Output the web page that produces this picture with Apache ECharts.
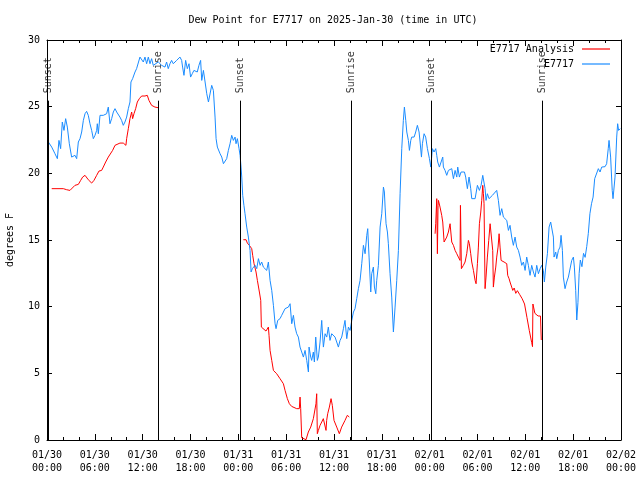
<!DOCTYPE html>
<html><head><meta charset="utf-8">
<script src="https://cdn.jsdelivr.net/npm/echarts@6/dist/echarts.min.js"></script>
<style>html,body{margin:0;padding:0;background:#fff}#c{width:640px;height:480px}</style>
</head><body><div id="c"></div>
<script>
const titleText = 'Dew Point for E7717 on 2025-Jan-30 (time in UTC)';
const yName = 'degrees F';
const xTickLabels = ['01/30\n00:00','01/30\n06:00','01/30\n12:00','01/30\n18:00','01/31\n00:00','01/31\n06:00','01/31\n12:00','01/31\n18:00','02/01\n00:00','02/01\n06:00','02/01\n12:00','02/01\n18:00','02/02\n00:00'];
const sunTimes = [0.15, 14.0, 24.2, 38.15, 48.2, 62.1];
const sunNames = ['Sunset','Sunrise','Sunset','Sunrise','Sunset','Sunrise'];
const seriesNames = ['E7717 Analysis', 'E7717'];

// observed dew point (hours since 01/30 00:00 UTC, deg F)
const obsData = [[0.17,22.35],[0.59,21.97],[1.0,21.47],[1.3,21.1],[1.5,22.47],[1.71,21.85],[1.92,23.85],[2.13,23.22],[2.34,24.1],[2.55,23.47],[2.8,22.22],[3.09,21.22],[3.3,21.1],[3.51,21.35],[3.72,21.1],[3.93,22.35],[4.14,22.6],[4.35,23.1],[4.56,23.97],[4.77,24.47],[4.97,24.65],[5.18,24.35],[5.39,23.72],[5.6,23.22],[5.81,22.6],[6.02,22.85],[6.23,23.22],[6.31,23.72],[6.44,22.97],[6.65,24.35],[7.06,24.35],[7.48,24.47],[7.69,24.97],[7.9,23.72],[8.11,24.1],[8.32,24.6],[8.53,24.85],[8.74,24.6],[8.95,24.72],[9.15,24.22],[9.36,23.97],[9.57,23.6],[9.78,23.85],[9.99,24.22],[10.2,24.85],[10.41,25.35],[10.53,26.85],[10.74,27.1],[11.04,27.6],[11.24,27.85],[11.45,27.72],[11.66,28.72],[11.87,28.85],[12.08,28.35],[12.29,28.72],[12.5,28.22],[12.71,28.72],[12.92,28.22],[13.12,28.6],[13.33,28.1],[13.54,28.22],[13.96,28.35],[14.38,28.1],[14.8,27.97],[15.0,28.35],[15.21,27.85],[15.42,28.22],[15.63,28.47],[15.84,28.22],[16.05,28.1],[16.26,28.47],[16.68,28.72],[16.89,28.47],[17.01,27.97],[17.18,27.35],[17.39,28.47],[17.6,27.85],[17.81,28.22],[18.01,27.22],[18.22,27.47],[18.43,27.72],[18.64,27.85],[18.85,27.6],[19.06,28.1],[19.27,28.47],
[19.41,26.97],[19.62,27.72],[19.83,26.85],[20.04,25.97],[20.25,25.35],[20.45,25.47],[20.66,26.6],[20.87,26.22],[21.08,24.22],[21.21,22.6],[21.37,21.97],[21.71,21.47],[21.92,21.22],[22.13,20.72],[22.34,20.6],[22.54,21.1],[22.75,21.72],[22.96,22.22],[23.17,22.85],[23.38,22.47],[23.59,22.72],[23.71,22.22],[23.88,22.6],[24.09,21.85],[24.22,21.35],[24.34,20.47],[24.43,19.72],[24.55,18.35],[24.7,17.6],[24.84,16.97],[25.05,15.97],[25.26,15.22],[25.47,14.22],[25.6,12.6],[25.76,12.85],[25.89,12.72],[26.1,13.1],[26.31,12.85],[26.52,13.6],[26.73,13.1],[26.93,13.35],[27.14,12.97],[27.35,13.1],[27.56,12.72],[27.77,13.35],[27.98,11.97],[28.19,11.22],[28.4,10.1],[28.61,8.72],[28.73,8.35],[28.94,8.97],[29.23,9.1],[29.44,9.35],[29.65,9.6],[29.86,9.85],[30.07,9.85],[30.28,9.97],[30.49,10.22],[30.7,8.72],[30.91,9.35],[31.11,8.47],[31.32,7.97],[31.53,7.72],[31.74,6.97],[31.95,6.6],[32.16,6.22],[32.37,6.72],[32.58,5.97],[32.79,5.1],[32.87,6.97],[33.08,6.22],[33.2,5.97],[33.41,6.6],[33.54,5.85],[33.71,7.72],[33.91,5.97],[34.04,6.22],[34.25,7.35],[34.46,8.97],[34.54,8.1],[34.67,6.97],[34.88,7.97],[35.09,7.72],[35.29,8.47],[35.5,7.47],[35.71,7.97],[35.92,7.85],[36.13,7.72],[36.34,7.35],[36.55,6.97],[36.76,7.47],[36.97,7.72],[37.18,8.35],[37.38,8.97],[37.6,7.6],[37.81,8.47],[38.02,8.22],[38.23,8.97],[38.44,9.6],[38.64,9.85],[38.85,10.6],[39.06,11.35],[39.27,11.97],[39.48,13.22],[39.69,14.6],[39.9,13.97],[40.11,15.35],[40.23,15.85],[40.4,13.72],[40.61,11.1],[40.73,12.47],[40.94,12.97],[41.07,11.47],[41.24,10.97],[41.36,11.97],[41.57,13.1],[41.78,15.97],[41.99,16.97],[42.2,18.97],[42.32,18.6],[42.41,17.47],[42.53,16.22],[42.7,15.6],[42.82,14.72],[43.03,12.47],[43.24,10.72],[43.45,8.1],[43.66,9.97],[43.87,11.97],[44.08,14.22],[44.29,18.47],[44.5,21.85],[44.7,23.97],[44.83,24.97],[45.0,23.97],[45.13,23.1],[45.33,22.47],[45.46,21.72],[45.63,22.47],[45.75,22.72],[46.05,22.72],[46.25,23.1],[46.46,23.6],[46.67,23.1],[46.8,22.35],[46.97,21.22],[47.09,22.22],[47.3,22.97],[47.5,22.72],[47.72,21.85],[47.97,21.1],[48.14,20.47],[48.34,21.85],[48.55,21.6],[48.76,21.85],[48.89,21.35],[49.01,20.85],[49.22,20.47],[49.43,20.6],[49.64,21.22],[49.72,20.47],[49.93,20.22],[50.14,19.85],[50.35,20.22],[50.56,20.22],[50.77,20.35],[50.98,19.6],[51.19,20.22],[51.4,19.72],[51.52,20.47],[51.73,19.72],[51.94,20.1],[52.15,20.22],[52.36,20.1],[52.52,19.72],[52.73,18.85],[52.94,19.72],[53.15,18.85],[53.28,18.1],[53.7,18.1],[53.99,19.1],[54.24,18.72],[54.45,19.1],[54.66,19.85],[54.82,19.97],[54.95,18.85],[55.07,17.97],[55.24,18.47],[55.45,18.1],[55.66,18.22],[55.87,18.35],[56.12,18.47],[56.41,18.72],[56.62,17.97],[56.83,16.85],[57.04,17.35],[57.25,16.72],[57.46,16.6],[57.67,16.47],[57.88,15.72],[58.08,16.1],[58.29,15.22],[58.5,14.6],[58.71,15.22],[58.92,14.47],[59.13,14.22],[59.34,13.72],[59.55,13.1],[59.76,13.35],[59.97,12.72],[60.17,13.72],[60.38,13.1],[60.59,12.35],[60.8,13.1],[61.01,12.6],[61.22,12.22],[61.43,13.1],[61.64,12.47],[61.85,12.85],[62.05,13.1],[62.26,12.72],[62.39,11.85],[62.56,12.97],[62.77,13.97],[62.98,15.97],[63.18,16.35],[63.39,16.22],[63.52,15.22],[63.6,13.72],[63.81,14.1],[63.94,13.6],[64.15,14.22],[64.35,14.47],[64.48,15.35],[64.65,14.22],[64.77,12.22],[64.98,11.35],[65.19,11.85],[65.4,12.22],[65.6,12.22],[65.82,13.47],[66.03,13.72],[66.15,12.97],[66.32,11.2],[66.45,9.0],[66.6,10.3],[66.75,12.5],[66.9,13.5],[67.1,13.0],[67.3,14.0],[67.5,13.7],[67.7,14.5],[67.9,15.5],[68.1,16.97],[68.3,17.72],[68.5,18.22],[68.7,19.6],[68.95,19.72],[69.16,20.35],[69.37,20.1],[69.58,20.47],[69.8,20.6],[70.0,20.5],[70.2,20.72],[70.4,21.85],[70.5,22.47],[70.7,21.22],[70.9,18.72],[71.0,18.1],[71.25,19.72],[71.46,22.72],[71.58,23.72],[71.7,23.22],[71.9,23.35]];

// analysis dew point, three separate segments
const anaSeg1 = [[0.59,18.85],[2.05,18.85],[2.47,18.77],[2.88,18.72],[3.09,18.85],[3.51,19.1],[3.93,19.17],[4.22,19.47],[4.47,19.72],[4.77,19.85],[5.18,19.52],[5.6,19.27],[5.89,19.47],[6.23,19.85],[6.52,20.17],[6.85,20.22],[7.06,20.47],[7.36,20.85],[7.69,21.22],[7.9,21.27],[8.23,21.72],[8.53,22.1],[8.65,22.22],[9.15,22.27],[9.57,22.27],[9.78,22.35],[9.9,22.1],[9.99,22.6],[10.2,23.35],[10.41,24.1],[10.62,24.6],[10.74,24.1],[10.91,24.47],[11.12,24.85],[11.33,25.35],[11.58,25.6],[11.87,25.8],[12.29,25.8],[12.58,25.85],[12.79,25.47],[13.12,25.1],[13.54,24.97],[13.96,24.92]];
const anaSeg2 = [[24.63,15.02],[24.97,15.02],[25.13,14.77],[25.38,14.6],[25.68,14.35],[25.8,13.85],[25.97,13.22],[26.22,12.6],[26.39,11.97],[26.64,11.1],[26.81,10.47],[26.89,8.47],[27.14,8.35],[27.47,8.17],[27.64,8.02],[27.77,8.47],[27.85,7.85],[27.98,6.72],[28.19,5.97],[28.4,5.22],[28.81,4.97],[29.23,4.6],[29.65,4.22],[29.86,3.72],[30.15,3.1],[30.4,2.72],[30.69,2.52],[31.32,2.35],[31.65,2.35],[31.74,3.22],[31.82,2.35],[31.95,0.17],[32.16,0.1],[32.49,0.02],[32.66,0.0],[32.78,0.6],[33.08,0.97],[33.41,1.6],[33.62,1.72],[33.74,2.72],[33.83,3.47],[33.91,0.47],[34.04,0.72],[34.25,1.1],[34.46,1.35],[34.66,1.6],[34.87,1.47],[35.0,0.72],[35.08,1.47],[35.21,1.97],[35.42,2.47],[35.63,3.1],[35.79,2.6],[36.0,1.47],[36.34,0.97],[36.67,0.47],[36.96,0.97],[37.38,1.47],[37.67,1.85],[37.92,1.72]];
const anaSeg3 = [[48.68,15.47],[48.76,16.22],[48.89,18.1],[48.97,13.97],[49.05,17.6],[49.1,17.97],[49.3,17.47],[49.51,16.85],[49.64,16.35],[49.81,14.85],[49.93,14.72],[50.14,15.22],[50.35,15.6],[50.56,16.22],[50.69,16.27],[50.77,14.85],[50.98,14.6],[51.19,14.22],[51.4,13.97],[51.6,13.72],[51.81,13.47],[51.86,17.6],[51.98,12.85],[52.23,13.1],[52.44,13.35],[52.65,13.97],[52.86,14.97],[52.98,14.72],[53.15,13.97],[53.28,13.35],[53.49,12.72],[53.7,11.97],[53.82,11.72],[53.99,13.22],[54.11,14.47],[54.24,16.22],[54.41,17.1],[54.53,17.97],[54.66,19.1],[54.74,18.47],[54.82,17.72],[54.95,11.35],[55.07,12.22],[55.24,13.72],[55.41,14.97],[55.58,16.22],[55.78,16.35],[55.91,14.22],[55.99,11.47],[56.12,12.22],[56.29,12.97],[56.41,13.72],[56.58,14.47],[56.71,15.47],[56.83,14.47],[56.96,13.47],[57.12,13.35],[57.33,13.35],[57.67,13.22],[57.79,12.35],[57.96,12.1],[58.08,11.85],[58.29,11.47],[58.42,11.22],[58.6,11.4],[58.8,11.0],[59.0,11.2],[59.3,10.9],[59.6,10.6],[59.9,10.2],[60.2,9.2],[60.5,8.2],[60.8,7.3],[60.9,7.0],[60.95,10.2],[61.2,9.5],[61.6,9.3],[61.9,9.3],[62.0,7.5]];

const FONT = 'DejaVu Sans Mono';
const chart = echarts.init(document.getElementById('c'), null, {renderer: 'canvas'});
const gap = t => [t, '-'];
const anaData = anaSeg1.concat([gap(20)], anaSeg2, [gap(44)], anaSeg3);
const sunLabelTop = 26.0, sunLineTop = 25.45;

const axisCommonX = {
  type: 'value', min: 0, max: 72, interval: 6,
  axisLine: {show: true, onZero: false, lineStyle: {color: '#000', width: 1}},
  axisTick: {show: true, inside: true, length: 6, lineStyle: {color: '#000'}},
  minorTick: {show: true, splitNumber: 3, length: 3, lineStyle: {color: '#000'}},
  splitLine: {show: false}
};
const axisCommonY = {
  type: 'value', min: 0, max: 30, interval: 5,
  axisLine: {show: true, onZero: false, lineStyle: {color: '#000', width: 1}},
  axisTick: {show: true, inside: true, length: 5, lineStyle: {color: '#000'}},
  splitLine: {show: false}
};
const legendCommon = {align: 'right', orient: 'vertical', itemWidth: 28, itemHeight: 1.2, right: 30,
  icon: 'rect', textStyle: {fontFamily: FONT, fontSize: 10, color: '#000', padding: [0, 3, 0, 0]}};

chart.setOption({
  animation: false,
  backgroundColor: '#fff',
  title: {text: titleText, left: 328, top: 10, textAlign: 'center',
    textStyle: {fontFamily: FONT, fontSize: 10, fontWeight: 'normal', color: '#000'}},
  grid: {left: 47, right: 19, top: 40, bottom: 40, outerBoundsMode: 'none', containLabel: false},
  legend: [
    Object.assign({}, legendCommon, {data: [seriesNames[0]], top: 39, right: 25}),
    Object.assign({}, legendCommon, {data: [seriesNames[1]], top: 54, right: 25})
  ],
  xAxis: [
    Object.assign({}, axisCommonX, {position: 'bottom',
      axisLabel: {show: true, color: '#000', fontFamily: FONT, fontSize: 10, lineHeight: 13, margin: 9,
        formatter: v => xTickLabels[Math.round(v / 6)] || ''}}),
    Object.assign({}, axisCommonX, {position: 'top', axisLabel: {show: false}})
  ],
  yAxis: [
    Object.assign({}, axisCommonY, {position: 'left',
      axisLabel: {show: true, color: '#000', fontFamily: FONT, fontSize: 10, margin: 7},
      name: yName, nameLocation: 'middle', nameGap: 32, nameRotate: 90,
      nameTextStyle: {fontFamily: FONT, fontSize: 10, color: '#000'}}),
    Object.assign({}, axisCommonY, {position: 'right', axisLabel: {show: false}})
  ],
  series: [
    {name: 'sun', type: 'scatter', xAxisIndex: 0, yAxisIndex: 0, symbolSize: 1,
      itemStyle: {color: 'rgba(0,0,0,0)'}, silent: true,
      data: sunTimes.map((t, i) => [t, sunLabelTop, sunNames[i]]),
      label: {show: true, position: 'inside', rotate: 90, align: 'left', verticalAlign: 'middle',
        formatter: p => p.data[2], color: '#000', fontFamily: FONT, fontSize: 10},
      markLine: {silent: true, symbol: ['none', 'none'], label: {show: false},
        lineStyle: {color: '#000', width: 1, type: 'solid'},
        data: sunTimes.map(t => [{coord: [t, 0]}, {coord: [t, sunLineTop]}])}
    },
    {name: seriesNames[0], type: 'line', xAxisIndex: 0, yAxisIndex: 0, data: anaData,
      showSymbol: false, symbol: 'none', connectNulls: false,
      lineStyle: {color: '#ff0000', width: 1}, itemStyle: {color: '#ff0000'}, z: 3},
    {name: seriesNames[1], type: 'line', xAxisIndex: 0, yAxisIndex: 0, data: obsData,
      showSymbol: false, symbol: 'none',
      lineStyle: {color: '#1a8cff', width: 1}, itemStyle: {color: '#1a8cff'}, z: 4}
  ]
});
</script></body></html>
